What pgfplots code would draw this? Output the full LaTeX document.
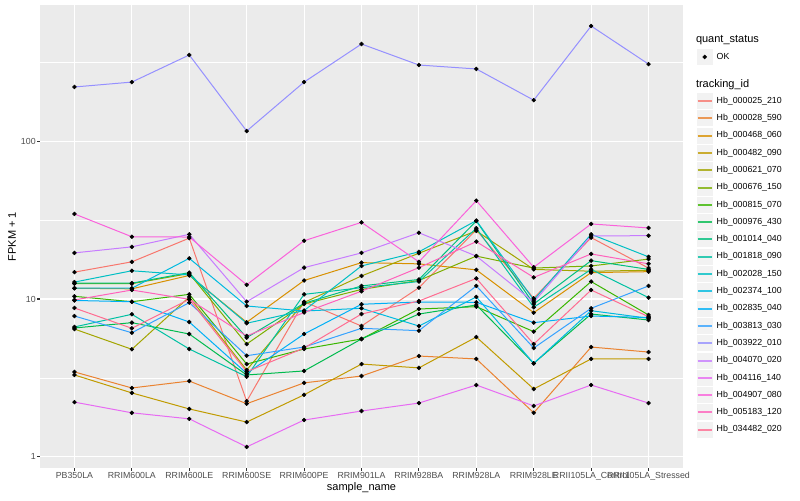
\documentclass[border=0pt]{standalone}
\usepackage{fontspec}
\setmainfont{Liberation Sans}
\usepackage{pgfplots}
\usepackage{pgfplotstable}
\pgfplotsset{compat=1.18}

\definecolor{panel}{HTML}{EBEBEB}
\definecolor{keybg}{HTML}{F2F2F2}
\definecolor{grey20}{HTML}{333333}
\definecolor{grey30}{HTML}{4D4D4D}
\definecolor{c025}{HTML}{F8766D}
\definecolor{c028}{HTML}{EA8331}
\definecolor{c468}{HTML}{D89000}
\definecolor{c482}{HTML}{C09B00}
\definecolor{c621}{HTML}{A3A500}
\definecolor{c676}{HTML}{7CAE00}
\definecolor{c815}{HTML}{39B600}
\definecolor{c976}{HTML}{00BB4E}
\definecolor{c1014}{HTML}{00BF7D}
\definecolor{c1818}{HTML}{00C1A3}
\definecolor{c2028}{HTML}{00BFC4}
\definecolor{c2374}{HTML}{00BAE0}
\definecolor{c2835}{HTML}{00B0F6}
\definecolor{c3813}{HTML}{35A2FF}
\definecolor{c3922}{HTML}{9590FF}
\definecolor{c4070}{HTML}{C77CFF}
\definecolor{c4116}{HTML}{E76BF3}
\definecolor{c4907}{HTML}{FA62DB}
\definecolor{c5183}{HTML}{FF62BC}
\definecolor{c34482}{HTML}{FF6C91}

% FPKM + 1 per sample (x = sample index 0..10)
\pgfplotstableread{
x c025 c028 c468 c482 c621 c676 c815 c976 c1014 c1818 c2028 c2374 c2835 c3813 c3922 c4070 c4116 c4907 c5183 c34482
0 14.8 3.45 11.7 3.30 6.45 12.5 10.4 6.55 12.6 6.65 12.8 11.7 9.79 7.80 220.6 19.6 2.22 34.6 9.86 8.77
1 17.2 2.73 11.6 2.54 4.80 12.5 9.61 7.08 12.6 8.00 15.1 11.7 9.61 6.11 237 21.4 1.90 24.8 11.4 6.52
2 24.3 3.02 14.1 2.01 10.3 14.5 10.7 6.00 14.7 4.82 14.2 18.1 7.15 9.48 352 25.7 1.74 24.7 9.95 9.95
3 2.25 2.17 7.12 1.66 3.55 5.18 3.87 3.30 5.69 3.22 7.02 9.03 3.38 4.37 116 9.61 1.155 12.3 5.83 3.46
4 9.61 2.94 13.1 2.47 9.50 9.30 4.82 3.50 9.39 10.7 8.45 8.39 6.00 4.96 237 15.8 1.71 23.4 8.21 4.89
5 6.74 3.25 17.0 3.87 14.0 11.5 5.58 5.58 12.1 11.8 16.2 8.73 9.26 6.52 413 19.6 1.95 30.6 11.2 8.03
6 11.8 4.35 16.7 3.66 19.5 13.1 8.64 8.03 13.3 12.9 19.9 6.74 9.57 6.30 304 26.3 2.19 17.2 15.8 9.71
7 27.4 4.17 15.3 5.74 27.0 18.7 8.94 9.16 31.2 28.1 31.4 10.3 9.53 12.1 287 18.7 2.85 42.0 23.1 13.5
8 10.1 1.90 8.19 2.69 15.4 15.7 6.21 3.91 9.30 8.86 9.86 3.91 7.08 4.89 182 9.57 2.10 15.9 13.7 5.18
9 24.5 4.96 14.7 4.17 15.0 16.2 12.9 8.03 17.5 15.4 25.7 8.43 7.80 8.73 537 25.1 2.85 29.9 19.3 11.4
10 15.7 4.61 14.9 4.17 15.2 17.9 7.92 7.36 15.4 10.2 18.5 7.55 7.63 12.1 308 25.2 2.19 28.2 16.7 7.72
}\fpkm

\pgfplotsset{
  panelaxis/.style={
    at={(30pt,24pt)}, anchor=south west,
    scale only axis, width=482.25pt, height=347.25pt,
  },
}

\begin{document}
\begin{tikzpicture}
\path[use as bounding box] (0pt,0pt) rectangle (600pt,375pt);
\begin{axis}[
  panelaxis,
  xmin=-0.6, xmax=10.6,
  ymode=log, log basis y=10, ymin=0.849, ymax=730,
  xtick={0,1,2,3,4,5,6,7,8,9,10},
  xticklabels={PB350LA,RRIM600LA,RRIM600LE,RRIM600SE,RRIM600PE,RRIM901LA,RRIM928BA,RRIM928LA,RRIM928LE,RRII105LA\_Control,RRII105LA\_Stressed},
  ytick={1,10,100}, yticklabels={1,10,100},
  minor ytick={3.1623,31.623,316.23},
  axis background/.style={fill=panel},
  axis line style={draw=none},
  xmajorgrids, ymajorgrids, yminorgrids,
  major grid style={white, line width=0.8pt},
  minor grid style={white, line width=0.4pt},
  tick align=outside, tick pos=left,
  major tick length=2.06pt, minor tick length=0pt,
  tick style={grey20, line width=0.8pt},
  /pgf/number format/assume math mode=true,
  ticklabel style={font=\fontsize{6.6}{7.5}\selectfont, text=grey30},
  xticklabel style={inner sep=1pt},
  yticklabel style={inner sep=1pt},
  xlabel={sample\_name}, ylabel={FPKM + 1},
  xlabel style={at={(axis description cs:0.5,-0.0432)}, anchor=center, font=\fontsize{8.25}{9}\selectfont},
  ylabel style={at={(axis description cs:-0.0435,0.5)}, anchor=center, font=\fontsize{8.25}{9}\selectfont},
  legend style={at={(1.0213,0.8113)}, anchor=north west, draw=none, fill=none,
    inner sep=0pt, outer sep=0pt, row sep=0pt, column sep=3pt,
    font=\fontsize{6.6}{7.5}\selectfont, nodes={inner sep=0pt, text=black}},
  legend cell align=left,
  legend image code/.code={
    \fill[keybg, draw=none] (0pt,-6pt) rectangle (12pt,6pt);
    \path[draw=none] (0pt,-6.4875pt) rectangle (12pt,6.4875pt);
    \draw[#1, line width=1.5pt, opacity=0.8] (0.75pt,0pt) -- (11.25pt,0pt);
  },
]
\pgfplotsinvokeforeach{c025,c028,c468,c482,c621,c676,c815,c976,c1014,c1818,c2028,c2374,c2835,c3813,c3922,c4070,c4116,c4907,c5183,c34482}{
  \addplot[#1, line width=0.75pt, forget plot] table[x=x, y=#1] {\fpkm};
}
\pgfplotsinvokeforeach{c025,c028,c468,c482,c621,c676,c815,c976,c1014,c1818,c2028,c2374,c2835,c3813,c3922,c4070,c4116,c4907,c5183,c34482}{
  \addplot[only marks, mark=*, mark size=1.45pt, black, forget plot] table[x=x, y=#1] {\fpkm};
}
\addlegendimage{c025}\addlegendentry{Hb\_000025\_210}
\addlegendimage{c028}\addlegendentry{Hb\_000028\_590}
\addlegendimage{c468}\addlegendentry{Hb\_000468\_060}
\addlegendimage{c482}\addlegendentry{Hb\_000482\_090}
\addlegendimage{c621}\addlegendentry{Hb\_000621\_070}
\addlegendimage{c676}\addlegendentry{Hb\_000676\_150}
\addlegendimage{c815}\addlegendentry{Hb\_000815\_070}
\addlegendimage{c976}\addlegendentry{Hb\_000976\_430}
\addlegendimage{c1014}\addlegendentry{Hb\_001014\_040}
\addlegendimage{c1818}\addlegendentry{Hb\_001818\_090}
\addlegendimage{c2028}\addlegendentry{Hb\_002028\_150}
\addlegendimage{c2374}\addlegendentry{Hb\_002374\_100}
\addlegendimage{c2835}\addlegendentry{Hb\_002835\_040}
\addlegendimage{c3813}\addlegendentry{Hb\_003813\_030}
\addlegendimage{c3922}\addlegendentry{Hb\_003922\_010}
\addlegendimage{c4070}\addlegendentry{Hb\_004070\_020}
\addlegendimage{c4116}\addlegendentry{Hb\_004116\_140}
\addlegendimage{c4907}\addlegendentry{Hb\_004907\_080}
\addlegendimage{c5183}\addlegendentry{Hb\_005183\_120}
\addlegendimage{c34482}\addlegendentry{Hb\_034482\_020}
\end{axis}

% second, empty axis only for the quant_status legend
\begin{axis}[
  panelaxis, hide axis,
  xmin=0, xmax=1, ymin=0, ymax=1,
  legend style={at={(1.0213,0.9064)}, anchor=north west, draw=none, fill=none,
    inner sep=0pt, outer sep=0pt, row sep=0pt, column sep=3pt,
    font=\fontsize{6.6}{7.5}\selectfont, nodes={inner sep=0pt, text=black}},
  legend cell align=left,
  legend image code/.code={
    \fill[keybg, draw=none] (0pt,-6pt) rectangle (12pt,6pt);
    \path[draw=none] (0pt,-6.4875pt) rectangle (12pt,6.4875pt);
    \draw[#1] plot coordinates {(6pt,0pt)};
  },
]
\addplot[draw=none, forget plot] coordinates {(0,0)};
\addlegendimage{only marks, mark=*, mark size=1.45pt, black}
\addlegendentry{OK}
\end{axis}

\node[anchor=west, inner sep=0pt, font=\fontsize{8.25}{9}\selectfont] at (521.8pt,345pt) {quant\_status};
\node[anchor=west, inner sep=0pt, font=\fontsize{8.25}{9}\selectfont] at (521.8pt,311.8pt) {tracking\_id};
\end{tikzpicture}
\end{document}
